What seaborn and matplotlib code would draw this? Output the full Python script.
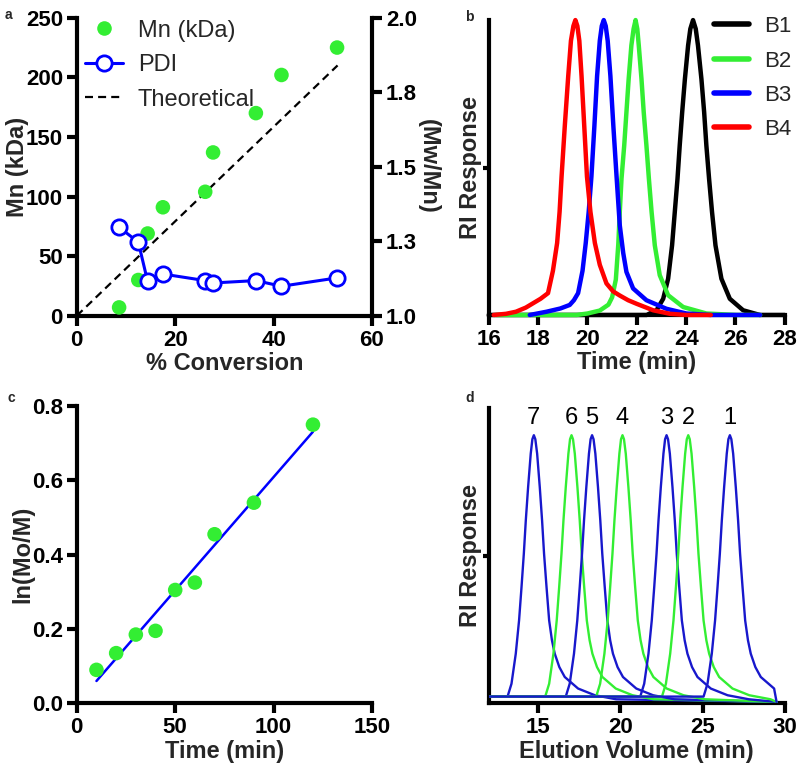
import numpy as np
import pandas as pd
import matplotlib
matplotlib.use("Agg")
import matplotlib.pyplot as plt
from matplotlib.lines import Line2D
import seaborn as sns

# ---- panel a: Mn / PDI vs conversion
conv = [8.6, 12.5, 14.4, 17.5, 26.1, 27.7, 36.4, 41.6, 52.9]
mn_kda = [7, 30, 69, 91, 104, 137, 170, 202, 225]
pdi = [1.297, 1.247, 1.115, 1.14, 1.118, 1.11, 1.118, 1.099, 1.127]
theo_conv = [0, 53]
theo_mn = [0, 210]

# ---- panel b: GPC traces B1-B4
b1_x = [16.0, 22.4, 22.8, 23.07, 23.27, 23.43, 23.54, 23.65, 23.74, 23.84, 23.95, 24.08, 24.17, 24.28,
        24.39, 24.48, 24.62, 24.73, 24.82, 24.93, 25.05, 25.19, 25.43, 25.77, 26.31, 26.99, 28.0]
b1_y = [0, 0, 0.016, 0.055, 0.123, 0.236, 0.349, 0.462, 0.575, 0.688, 0.80, 0.914, 0.97, 1.0,
        0.97, 0.914, 0.80, 0.688, 0.575, 0.462, 0.349, 0.236, 0.123, 0.055, 0.016, 0, 0]
b2_x = [16.3, 19.56, 20.0, 20.5, 20.85, 21.0, 21.15, 21.25, 21.31, 21.38, 21.49, 21.58, 21.67, 21.78, 21.87,
        21.95, 22.02, 22.08, 22.19, 22.28, 22.39, 22.49, 22.6, 22.73, 22.93, 23.27, 23.88, 24.82, 26.04, 27.0]
b2_y = [0, 0, 0.005, 0.015, 0.035, 0.06, 0.12, 0.24, 0.349, 0.462, 0.575, 0.688, 0.80, 0.914, 0.97,
        1.0, 0.97, 0.914, 0.80, 0.688, 0.575, 0.462, 0.349, 0.236, 0.135, 0.067, 0.027, 0.005, 0, 0]
b3_x = [17.66, 18.34, 18.9, 19.28, 19.45, 19.62, 19.8, 19.93, 20.05, 20.16, 20.28, 20.39, 20.5, 20.58, 20.66,
        20.74, 20.82, 20.93, 21.05, 21.18, 21.31, 21.45, 21.58, 21.85, 22.39, 23.2, 24.01, 25.0, 27.0]
b3_y = [0, 0.011, 0.022, 0.034, 0.05, 0.074, 0.15, 0.244, 0.35, 0.469, 0.64, 0.81, 0.93, 0.98, 1.0,
        0.98, 0.93, 0.81, 0.64, 0.469, 0.304, 0.21, 0.146, 0.09, 0.05, 0.021, 0.005, 0, 0]
b4_x = [16.2, 16.7, 17.1, 17.5, 17.8, 18.1, 18.4, 18.6, 18.77, 18.87, 18.95, 19.08, 19.22, 19.33, 19.43, 19.51,
        19.59, 19.67, 19.76, 19.87, 19.98, 20.12, 20.3, 20.5, 20.77, 21.04, 21.31, 21.65, 21.99, 22.66, 23.34, 24.0, 25.0]
b4_y = [0, 0.004, 0.011, 0.025, 0.04, 0.055, 0.074, 0.15, 0.244, 0.35, 0.469, 0.64, 0.81, 0.93, 0.98, 1.0,
        0.98, 0.93, 0.81, 0.64, 0.469, 0.35, 0.244, 0.17, 0.107, 0.08, 0.066, 0.05, 0.038, 0.016, 0.004, 0, 0]
b_names = ["B1", "B2", "B3", "B4"]
b_colors = ["black", "#33ee33", "#0000ff", "#ff0000"]

# ---- panel c: kinetics
time_min = [10, 20, 30, 40, 50, 60, 70, 90, 120]
ln_m0_m = [0.09, 0.135, 0.185, 0.195, 0.305, 0.325, 0.455, 0.54, 0.75]

peak_dx = [-1.6, -1.36, -1.1, -0.9, -0.75, -0.61, -0.49, -0.35, -0.19, -0.09, 0, 0.09, 0.2, 0.36, 0.5,
           0.62, 0.77, 0.93, 1.1, 1.27, 1.55, 1.88, 2.69, 3.71, 5.0]
peak_y = [0.025, 0.073, 0.185, 0.309, 0.434, 0.558, 0.682, 0.806, 0.931, 0.985, 1.0, 0.985, 0.931, 0.806, 0.682,
          0.558, 0.434, 0.309, 0.235, 0.185, 0.135, 0.098, 0.055, 0.03, 0.015]
d_labels = ["7", "6", "5", "4", "3", "2", "1"]
d_peaks = [14.74, 17.03, 18.28, 20.13, 22.81, 24.13, 26.66]
d_colors = ["#1818cc", "#33ee33", "#1818cc", "#33ee33", "#1818cc", "#33ee33", "#1818cc"]

green = "#33ee33"
blue = "#0000ff"

sns.set_theme(style="ticks")
plt.rcParams['font.family'] = ['Liberation Sans', 'DejaVu Sans']
plt.rcParams['font.weight'] = 'bold'
plt.rcParams['axes.labelweight'] = 'bold'
plt.rcParams['axes.labelsize'] = 17
plt.rcParams['xtick.labelsize'] = 16
plt.rcParams['ytick.labelsize'] = 16
plt.rcParams['axes.linewidth'] = 3
plt.rcParams['axes.edgecolor'] = 'black'
plt.rcParams['xtick.color'] = 'black'
plt.rcParams['ytick.color'] = 'black'


def style(ax):
    sns.despine(ax=ax)
    for s in ['left', 'bottom']:
        ax.spines[s].set_linewidth(3)
    ax.tick_params(width=3, length=7, pad=3, direction='out')


fig = plt.figure(figsize=(8, 7.72), dpi=100)

# panel a
ax = fig.add_axes([0.096, 0.591, 0.369, 0.386])
sns.lineplot(x=theo_conv, y=theo_mn, ax=ax, color='black', lw=1.6,
             linestyle=(0, (3.6, 2.3)), zorder=2)
sns.scatterplot(x=conv, y=mn_kda, ax=ax, color=green, s=110, edgecolor='none',
                zorder=3, clip_on=False)
ax.set_xlim(0, 60)
ax.set_ylim(0, 250)
ax.set_xticks([0, 20, 40, 60])
ax.set_yticks([0, 50, 100, 150, 200, 250])
ax.set_xlabel('% Conversion', labelpad=1)
ax.set_ylabel('Mn (kDa)', labelpad=-2)
style(ax)

ax2 = ax.twinx()
sns.lineplot(x=conv, y=pdi, ax=ax2, color=blue, lw=2.2, sort=False,
             marker='o', ms=11, mfc='white', mec=blue, mew=2)
ax2.set_ylim(1.0, 2.0)
ax2.set_yticks([1.0, 1.25, 1.5, 1.75, 2.0])
ax2.set_yticklabels(['1.0', '1.3', '1.5', '1.8', '2.0'])
ax2.set_ylabel('(Mw/Mn)', rotation=270, va='bottom', labelpad=0)
for s in ['top', 'left', 'bottom']:
    ax2.spines[s].set_visible(False)
ax2.spines['right'].set_linewidth(3)
ax2.tick_params(width=3, length=7, pad=3)

handles = [
    Line2D([], [], ls='none', marker='o', ms=10.5, color=green, mec='none'),
    Line2D([], [], color=blue, lw=2.2, marker='o', ms=11, mfc='white', mec=blue, mew=2),
    Line2D([], [], color='black', lw=1.6, ls=(0, (3.6, 2.3))),
]
ax2.legend(handles, ['Mn (kDa)', 'PDI', 'Theoretical'], loc='upper left',
           bbox_to_anchor=(0.106, 0.9746), bbox_transform=fig.transFigure,
           frameon=False, borderpad=0, borderaxespad=0, handlelength=1.6,
           handletextpad=0.65, labelspacing=0.53,
           prop={'size': 17, 'weight': 'normal'})

# panel b
axb = fig.add_axes([0.611, 0.592, 0.37, 0.382])
b_x = [b1_x, b2_x, b3_x, b4_x]
b_y = [b1_y, b2_y, b3_y, b4_y]
for i in [0, 3, 1, 2]:
    sns.lineplot(x=b_x[i], y=b_y[i], ax=axb, color=b_colors[i], lw=3.2,
                 sort=False, clip_on=False, zorder=3 + i)
axb.set_xlim(16, 28)
axb.set_ylim(0, 1)
axb.set_xticks(range(16, 29, 2))
axb.set_yticks([0.5])
axb.set_yticklabels([])
axb.set_xlabel('Time (min)', labelpad=1)
axb.set_ylabel('RI Response', labelpad=-2)
style(axb)
axb.tick_params(axis='y', length=4)
hb = [Line2D([], [], color=c, lw=4) for c in b_colors]
axb.legend(hb, b_names, loc='upper left', bbox_to_anchor=(0.892, 0.979),
           bbox_transform=fig.transFigure, frameon=False, borderpad=0,
           borderaxespad=0, handlelength=1.6, handletextpad=0.68,
           labelspacing=0.6, prop={'size': 16, 'weight': 'normal'})

# panel c
axc = fig.add_axes([0.096, 0.089, 0.369, 0.385])
sns.regplot(x=time_min, y=ln_m0_m, ax=axc, scatter=False, ci=None,
            line_kws=dict(color=blue, lw=1.8))
sns.scatterplot(x=time_min, y=ln_m0_m, ax=axc, color=green, s=110,
                edgecolor='none', zorder=3)
axc.set_xlim(0, 150)
axc.set_ylim(0, 0.8)
axc.set_xticks([0, 50, 100, 150])
axc.set_yticks([0, 0.2, 0.4, 0.6, 0.8])
axc.set_yticklabels(['0.0', '0.2', '0.4', '0.6', '0.8'])
axc.set_xlabel('Time (min)', labelpad=1)
axc.set_ylabel('ln(Mo/M)', labelpad=-2)
style(axc)

# panel d
axd = fig.add_axes([0.611, 0.089, 0.37, 0.382])
for lab, pk, col in zip(d_labels, d_peaks, d_colors):
    keep = [12 < pk + d < 29.5 for d in peak_dx]
    xs = [12.0] + [pk + d for d, k in zip(peak_dx, keep) if k] + [29.5]
    ys = [0.025] + [v for v, k in zip(peak_y, keep) if k] + [0.005]
    sns.lineplot(x=xs, y=ys, ax=axd, color=col, lw=1.7, sort=False, zorder=3)
    axd.text(pk, 1.066, lab, ha='center', va='center', fontsize=17,
             fontweight='normal', color='black')
axd.set_xlim(12, 30)
axd.set_ylim(0, 1.1)
axd.set_xticks([15, 20, 25, 30])
axd.set_yticks([0.55])
axd.set_yticklabels([])
axd.set_xlabel('Elution Volume (min)', labelpad=1)
axd.set_ylabel('RI Response', labelpad=-2)
style(axd)
axd.tick_params(axis='y', length=4)

# panel letters
for lab, x, y in [('a', 5, 8), ('b', 465, 10), ('c', 7, 391), ('d', 465, 391)]:
    fig.text(x / 800, 1 - y / 772, lab, fontsize=10, fontweight='bold', va='top')

fig.savefig('out.png', dpi=100)
